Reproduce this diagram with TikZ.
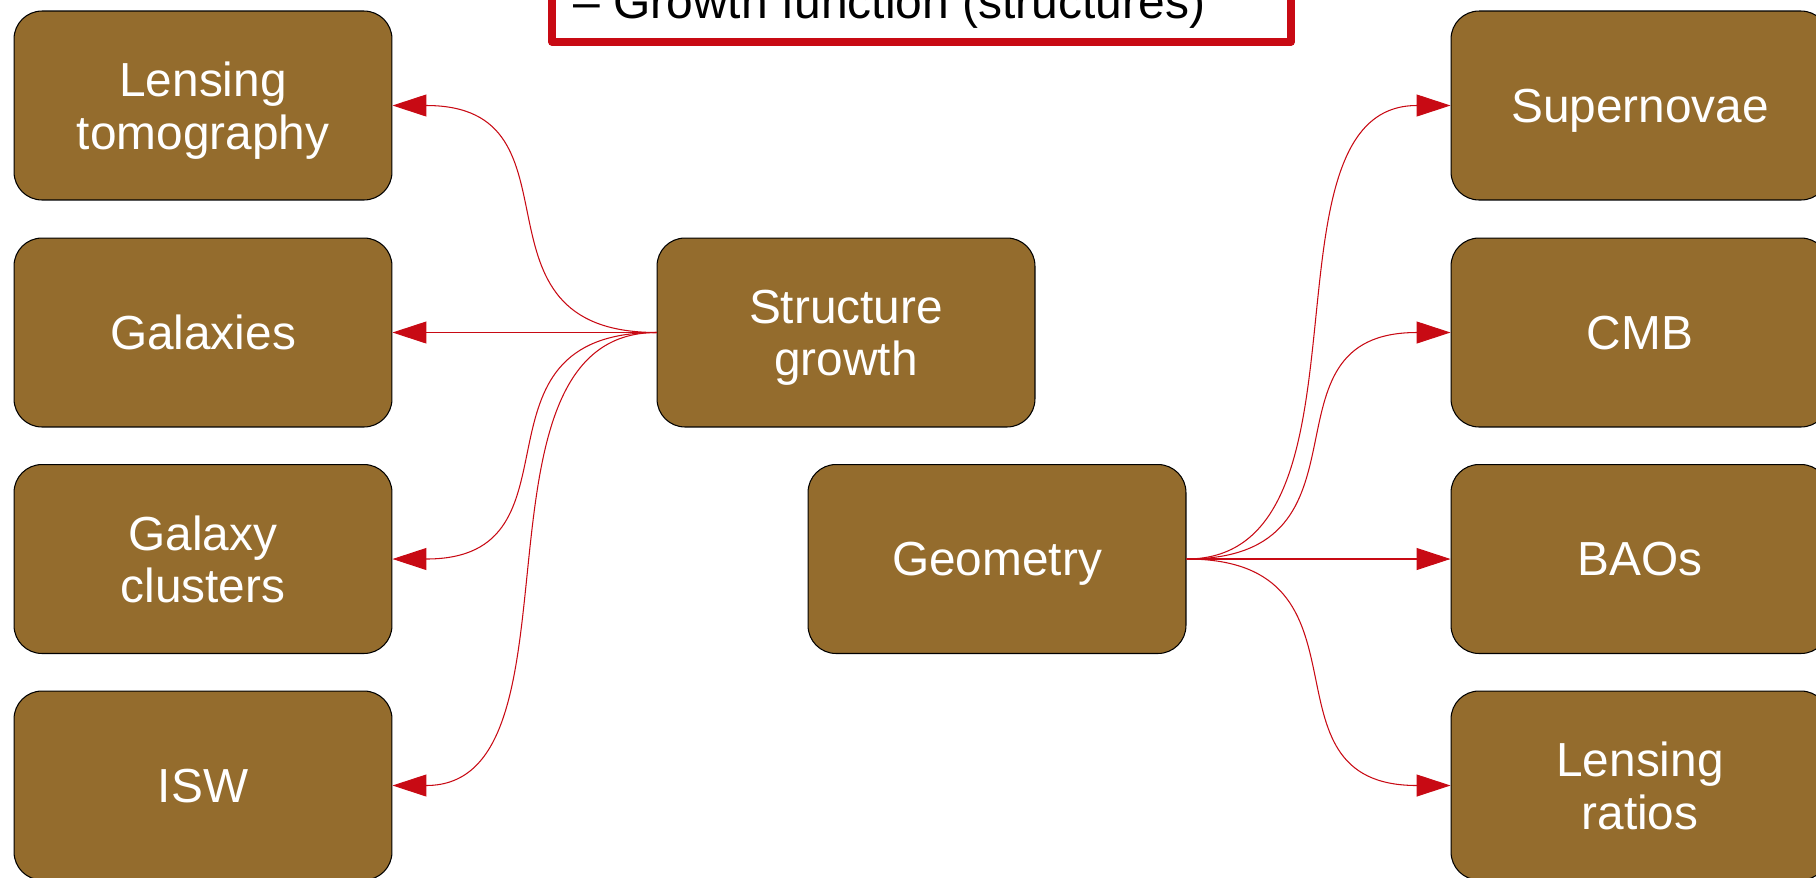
\documentclass[tikz,border=0pt]{standalone}
\usepackage{fontspec}
\setmainfont{Liberation Sans}
\usetikzlibrary{arrows.meta}
\definecolor{boxbrown}{RGB}{148,108,45}
\definecolor{linkred}{RGB}{200,10,20}

\begin{document}
\begin{tikzpicture}[x=0.02cm,y=-0.02cm,
    box/.style={draw=black,line width=0.6pt,fill=boxbrown,rounded corners=0.56cm,
      minimum width=7.56cm,minimum height=3.78cm,inner sep=0pt,text depth=0pt,
      text=white,align=center,font=\fontsize{27.2}{29.8}\selectfont},
    link/.style={draw=linkred,line width=0.6pt,-{Triangle[length=0.68cm,width=0.44cm,fill=linkred]}}]
      \useasboundingbox (0,0) rectangle (1816,877);
      \clip (0,0) rectangle (1816,877);
      \draw[linkred,line width=0.148cm,line join=round] (552,-80) rectangle (1291,42);
      \node[anchor=base west,inner sep=0pt,font=\fontsize{27.3}{30}\selectfont] (note) at (573,18) {– Growth function (structures)};
      \node[box] (lenstomo) at (203,105.5) {Lensing\\tomography};
      \node[box] (galaxies) at (203,332.5) {Galaxies};
      \node[box] (clusters) at (203,559) {Galaxy\\clusters};
      \node[box] (isw) at (203,785.5) {ISW};
      \node[box] (growth) at (846,332.5) {Structure\\growth};
      \node[box] (geometry) at (997,559) {Geometry};
      \node[box] (snae) at (1640,105.5) {Supernovae};
      \node[box] (cmb) at (1640,332.5) {CMB};
      \node[box] (baos) at (1640,559) {BAOs};
      \node[box] (lensratio) at (1640,785.5) {Lensing\\ratios};
      \draw[link] (growth.west) .. controls +(-200,0) and +(200,0) .. (lenstomo.east);
      \draw[link] (growth.west) -- (galaxies.east);
      \draw[link] (growth.west) .. controls +(-200,0) and +(200,0) .. (clusters.east);
      \draw[link] (growth.west) .. controls +(-200,0) and +(200,0) .. (isw.east);
      \draw[link] (geometry.east) .. controls +(200,0) and +(-200,0) .. (snae.west);
      \draw[link] (geometry.east) .. controls +(200,0) and +(-200,0) .. (cmb.west);
      \draw[link] (geometry.east) -- (baos.west);
      \draw[link] (geometry.east) .. controls +(200,0) and +(-200,0) .. (lensratio.west);
    \end{tikzpicture}
\end{document}
